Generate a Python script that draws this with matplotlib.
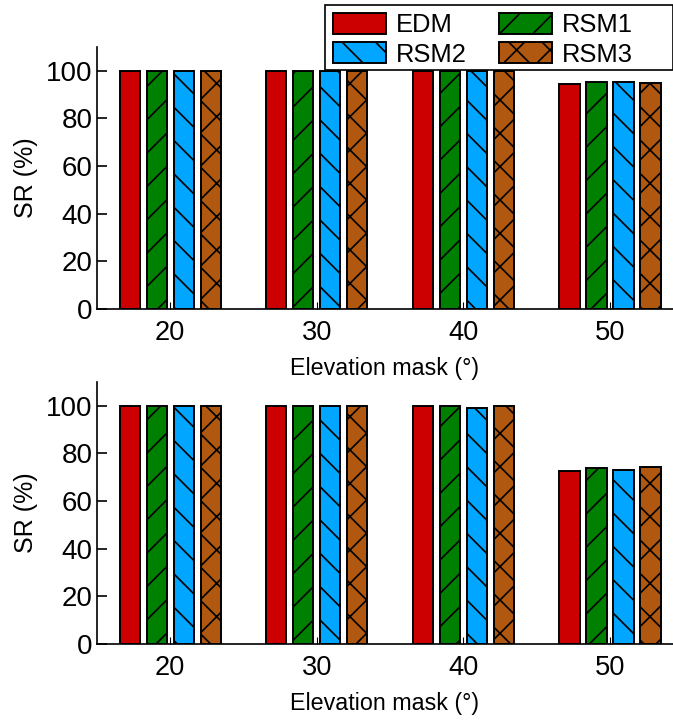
import numpy as np
import matplotlib
matplotlib.use("Agg")
import matplotlib.pyplot as plt
from matplotlib.patches import Rectangle

elev = ["20", "30", "40", "50"]
methods = ["EDM", "RSM1", "RSM2", "RSM3"]
top_edm = [100, 100, 99.7, 94.3]
top_rsm1 = [100, 100, 100, 95.2]
top_rsm2 = [100, 100, 100, 95.2]
top_rsm3 = [100, 100, 100, 95.0]
bot_edm = [100, 100, 99.8, 72.6]
bot_rsm1 = [100, 100, 99.8, 73.9]
bot_rsm2 = [100, 100, 99.2, 73.1]
bot_rsm3 = [100, 100, 99.8, 74.3]

colors = ["#cc0000", "#008000", "#00a6ff", "#b0580f"]
hatches = ["", "//", "\\\\", "xx"]

plt.rcParams["font.family"] = ["Liberation Sans", "DejaVu Sans"]
plt.rcParams["hatch.linewidth"] = 0.6

W, H = 673, 720
fig = plt.figure(figsize=(W / 200, H / 200), dpi=200)
ax1 = fig.add_axes([0.144, 0.571, 0.856, 0.364])
ax2 = fig.add_axes([0.144, 0.1056, 0.856, 0.364])

x = np.arange(len(elev))
step = 0.184
width = 0.138

for ax, series in [(ax1, [top_edm, top_rsm1, top_rsm2, top_rsm3]),
                   (ax2, [bot_edm, bot_rsm1, bot_rsm2, bot_rsm3])]:
    for i, vals in enumerate(series):
        ax.bar(x + (i - 1.5) * step, vals, width, color=colors[i],
               hatch=hatches[i], edgecolor="black", linewidth=0.7,
               label=methods[i])
    ax.set_xlim(-0.5, 3.43)
    ax.set_ylim(0, 110)
    ax.set_yticks([0, 20, 40, 60, 80, 100])
    ax.set_xticks(x)
    ax.set_xticklabels(elev)
    for s in ["top", "right"]:
        ax.spines[s].set_visible(False)
    for s in ["left", "bottom"]:
        ax.spines[s].set_linewidth(0.6)
    ax.tick_params(axis="y", direction="in", length=3.6, width=0.6,
                   pad=1.6, labelsize=10)
    ax.tick_params(axis="x", direction="in", length=2.5, width=0.4,
                   pad=4.0, labelsize=9.8)
    ax.set_xlabel("Elevation mask (°)", fontsize=8.4, labelpad=4)
    ax.set_ylabel("SR (%)", fontsize=9, labelpad=3)

# legend box, wider than its contents like the original
fig.patches.append(Rectangle((325 / W, 1 - 70 / H), 348 / W, 65 / H,
                             transform=fig.transFigure, facecolor="white",
                             edgecolor="black", linewidth=0.6, zorder=5))

h, l = ax1.get_legend_handles_labels()
order = [0, 2, 1, 3]
leg = fig.legend([h[k] for k in order], [l[k] for k in order], ncol=2,
                 loc="upper left", bbox_to_anchor=(325 / W, 1 - 5 / H),
                 fontsize=9.2, frameon=False,
                 handlelength=2.07, handleheight=0.9, columnspacing=1.27,
                 borderpad=0.3, labelspacing=0.2, handletextpad=0.4,
                 borderaxespad=0)
leg.set_zorder(6)

fig.savefig("out.png", dpi=200)
